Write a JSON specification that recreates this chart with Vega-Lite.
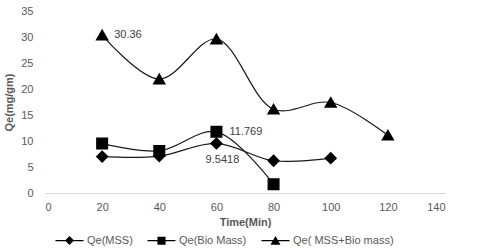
{
  "$schema": "https://vega.github.io/schema/vega-lite/v6.json",
  "autosize": {"type": "none"},
  "width": 400,
  "height": 182,
  "padding": {"left": 45, "top": 11, "right": 44, "bottom": 55},
  "background": "white",
  "config": {
    "view": {"stroke": null},
    "font": "Liberation Sans",
    "axis": {"labelColor": "#595959", "labelFontSize": 11, "titleColor": "#595959", "titleFontSize": 11, "titleFontWeight": "bold", "grid": false, "ticks": false}
  },
  "data": {
    "values": [
      {"series": "Qe(MSS)", "time": 20, "qe": 7.0},
      {"series": "Qe(MSS)", "time": 40, "qe": 7.1},
      {"series": "Qe(MSS)", "time": 60, "qe": 9.5418, "label": "9.5418"},
      {"series": "Qe(MSS)", "time": 80, "qe": 6.2},
      {"series": "Qe(MSS)", "time": 100, "qe": 6.7},
      {"series": "Qe(Bio Mass)", "time": 20, "qe": 9.5},
      {"series": "Qe(Bio Mass)", "time": 40, "qe": 8.1},
      {"series": "Qe(Bio Mass)", "time": 60, "qe": 11.769, "label": "11.769"},
      {"series": "Qe(Bio Mass)", "time": 80, "qe": 1.7},
      {"series": "Qe( MSS+Bio mass)", "time": 20, "qe": 30.36, "label": "30.36"},
      {"series": "Qe( MSS+Bio mass)", "time": 40, "qe": 21.9},
      {"series": "Qe( MSS+Bio mass)", "time": 60, "qe": 29.6},
      {"series": "Qe( MSS+Bio mass)", "time": 80, "qe": 16.1},
      {"series": "Qe( MSS+Bio mass)", "time": 100, "qe": 17.4},
      {"series": "Qe( MSS+Bio mass)", "time": 120, "qe": 11.1}
    ]
  },
  "encoding": {
    "x": {"field": "time", "type": "quantitative", "scale": {"domain": [0, 140], "nice": false, "zero": true},
          "axis": {"values": [0, 20, 40, 60, 80, 100, 120, 140], "title": "Time(Min)", "domainColor": "#d9d9d9", "labelPadding": 8, "titlePadding": 4}},
    "y": {"field": "qe", "type": "quantitative", "scale": {"domain": [0, 35], "nice": false},
          "axis": {"values": [0, 5, 10, 15, 20, 25, 30, 35], "title": "Qe(mg/gm)", "domain": false, "labelPadding": 12, "titlePadding": 6}}
  },
  "resolve": {"scale": {"shape": "independent"}, "legend": {"shape": "independent"}},
  "layer": [
    {
      "mark": {"type": "line", "interpolate": "catmull-rom", "stroke": "#1a1a1a", "strokeWidth": 1.2},
      "encoding": {"detail": {"field": "series"}}
    },
    {
      "mark": {"type": "point", "filled": true, "fill": "black", "stroke": "black", "opacity": 1, "size": 100},
      "encoding": {
        "shape": {"field": "series", "type": "nominal",
          "scale": {"domain": ["Qe(MSS)", "Qe(Bio Mass)", "Qe( MSS+Bio mass)"], "range": ["diamond", "square", "triangle-up"]},
          "legend": null}
      }
    },
    {
      "transform": [{"filter": "false"}],
      "mark": {"type": "point", "filled": true, "fill": "black", "stroke": "black", "opacity": 1},
      "encoding": {
        "shape": {"field": "series", "type": "nominal",
          "scale": {"domain": ["Qe(MSS)", "Qe(Bio Mass)", "Qe( MSS+Bio mass)"],
                    "range": ["M-1,-0.045L1,-0.045L1,0.045L-1,0.045ZM-0.32,0L0,-0.32L0.32,0L0,0.32Z", "M-1,-0.045L1,-0.045L1,0.045L-1,0.045ZM-0.29,-0.29L0.29,-0.29L0.29,0.29L-0.29,0.29Z", "M-1,-0.045L1,-0.045L1,0.045L-1,0.045ZM-0.36,0.29L0,-0.33L0.36,0.29Z"]},
          "legend": {
            "title": null, "orient": "none", "legendX": 10, "legendY": 215, "direction": "horizontal",
            "symbolSize": 784, "symbolFillColor": "black", "symbolStrokeColor": "black", "symbolStrokeWidth": 1,
            "labelFontSize": 11, "labelColor": "#595959", "labelOffset": 3, "columnPadding": 12
          }}
      }
    },
    {
      "transform": [{"filter": "datum.label && datum.series === 'Qe( MSS+Bio mass)'"}],
      "mark": {"type": "text", "align": "left", "dx": 12, "fontSize": 11, "color": "#404040"},
      "encoding": {"text": {"field": "label"}}
    },
    {
      "transform": [{"filter": "datum.label && datum.series === 'Qe(Bio Mass)'"}],
      "mark": {"type": "text", "align": "left", "dx": 13, "fontSize": 11, "color": "#404040"},
      "encoding": {"text": {"field": "label"}}
    },
    {
      "transform": [{"filter": "datum.label && datum.series === 'Qe(MSS)'"}],
      "mark": {"type": "text", "align": "center", "dx": 6, "dy": 17, "fontSize": 11, "color": "#404040"},
      "encoding": {"text": {"field": "label"}}
    }
  ]
}
